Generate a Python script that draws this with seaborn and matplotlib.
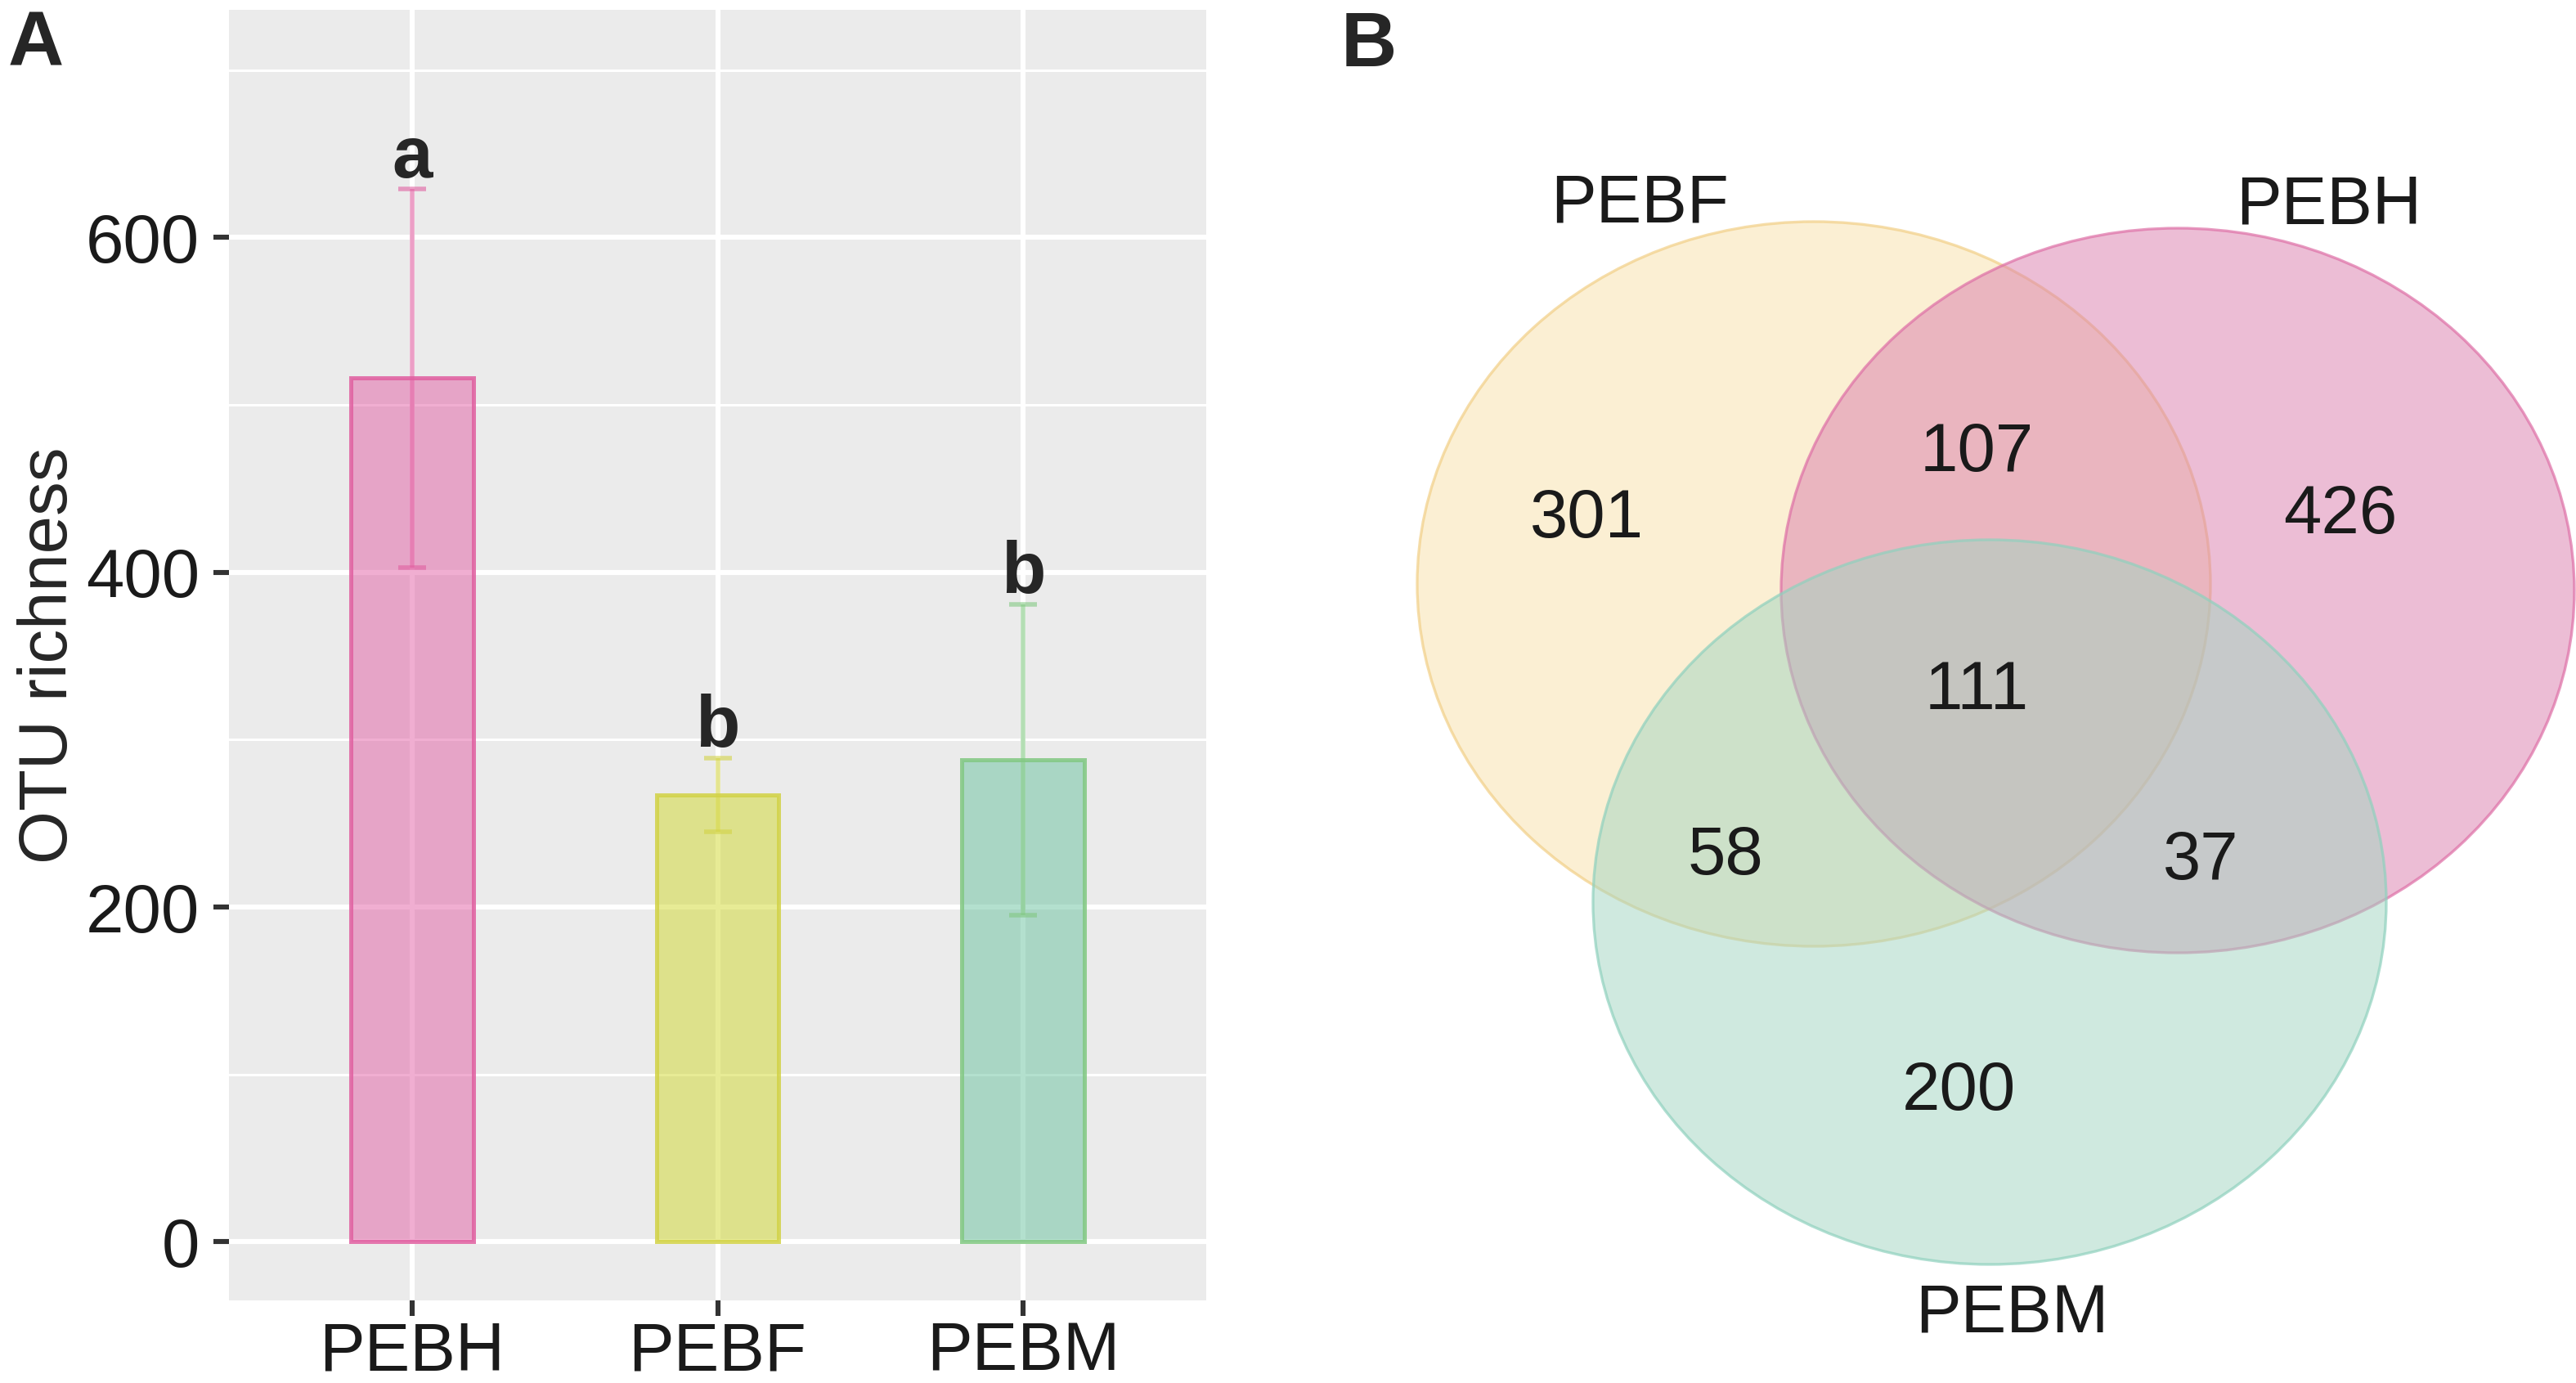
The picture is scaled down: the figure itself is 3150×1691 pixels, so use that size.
import matplotlib
matplotlib.use("Agg")
import matplotlib.pyplot as plt
from matplotlib.patches import Ellipse
from matplotlib.colors import to_rgba
import pandas as pd
import seaborn as sns

# panel A: OTU richness per group (mean +/- sd)
groups = ["PEBH", "PEBF", "PEBM"]
richness_mean = [516, 267, 288]
richness_sd = [113, 22, 93]
sig_letters = ["a", "b", "b"]

# panel B: venn counts
venn_sets = ["PEBF", "PEBH", "PEBM"]
venn_regions = ["PEBF", "PEBF&PEBH", "PEBH", "all", "PEBF&PEBM", "PEBH&PEBM", "PEBM"]
venn_counts = [301, 107, 426, 111, 58, 37, 200]

bar_fill = ["#E35FA5", "#D1D92D", "#69C39F"]
bar_edge = ["#E05FA0", "#D2D246", "#82C882"]
venn_fill = {"PEBF": "#F9E1A9", "PEBH": "#DB7DAD", "PEBM": "#A1D5C1"}
venn_edge = {"PEBF": "#F2CF86", "PEBH": "#DE6FA6", "PEBM": "#8FD1BE"}

sns.set_theme(style="darkgrid", rc={"axes.facecolor": "#EBEBEB"})
plt.rcParams["font.family"] = ["Liberation Sans", "DejaVu Sans"]

W, H = 3150, 1691
fig = plt.figure(figsize=(W / 200, H / 200), dpi=200)

# ---- A ----
ax = fig.add_axes([280 / W, 1 - 1590 / H, 1195 / W, 1578 / H])
df = pd.DataFrame({"group": groups, "richness": richness_mean})
sns.barplot(data=df, x="group", y="richness", hue="group", order=groups,
            hue_order=groups, palette=bar_fill, legend=False, width=0.4,
            errorbar=None, ax=ax)
for patch, fc, ec in zip(ax.patches, bar_fill, bar_edge):
    patch.set_facecolor(to_rgba(fc, 0.5))
    patch.set_edgecolor(to_rgba(ec, 0.85))
    patch.set_linewidth(1.8)

for i, (m, s, lt) in enumerate(zip(richness_mean, richness_sd, sig_letters)):
    ax.errorbar(i, m, yerr=s, color=bar_edge[i], alpha=0.6, lw=2,
                capsize=6, capthick=2, zorder=3)
    ax.annotate(lt, (i, m + s), xytext=(0, 5), textcoords="offset points",
                ha="center", va="baseline", fontsize=32, fontweight="bold")

ax.set_xlim(-0.6, 2.6)
ax.set_ylim(-35, 736)
ax.set_yticks([0, 200, 400, 600])
ax.set_yticks([100, 300, 500, 700], minor=True)
ax.grid(which="major", color="white", lw=2.2)
ax.grid(which="minor", axis="y", color="white", lw=1.1)
ax.set_axisbelow(True)
for sp in ax.spines.values():
    sp.set_visible(False)
ax.tick_params(which="major", left=True, bottom=True, length=7, width=2.2,
               color="#333333", labelsize=30, labelcolor="#1a1a1a")
ax.tick_params(axis="y", pad=6)
ax.tick_params(axis="x", pad=2)
ax.tick_params(which="minor", length=0)
ax.set_xlabel("")
ax.set_ylabel("OTU richness", fontsize=30, labelpad=2)

# ---- B ----
ax2 = fig.add_axes([1620 / W, 0, (W - 1620) / W, 1])
ax2.set_xlim(1620, W)
ax2.set_ylim(H, 0)
ax2.axis("off")

circles = {"PEBF": (2218, 714), "PEBH": (2663, 722), "PEBM": (2433, 1103)}
for name in venn_sets:
    cx, cy = circles[name]
    ax2.add_patch(Ellipse((cx, cy), 970, 886,
                          facecolor=to_rgba(venn_fill[name], 0.5),
                          edgecolor=to_rgba(venn_edge[name], 0.7), lw=1.2))

set_label_pos = {"PEBF": (2005, 250), "PEBH": (2848, 252), "PEBM": (2460, 1608)}
for name in venn_sets:
    x, y = set_label_pos[name]
    ax2.text(x, y, name, ha="center", va="center", fontsize=30, color="#1a1a1a")

count_pos = [(1940, 635), (2417, 554), (2862, 630), (2417, 845),
             (2110, 1047), (2691, 1053), (2395, 1335)]
for (x, y), n in zip(count_pos, venn_counts):
    ax2.text(x, y, str(n), ha="center", va="center", fontsize=30, color="#1a1a1a")

fig.text(10 / W, 1 - 12 / H, "A", fontsize=34, fontweight="bold", va="top", ha="left")
fig.text(1640 / W, 1 - 12 / H, "B", fontsize=34, fontweight="bold", va="top", ha="left")

fig.savefig("out.png", dpi=200, facecolor="white")
